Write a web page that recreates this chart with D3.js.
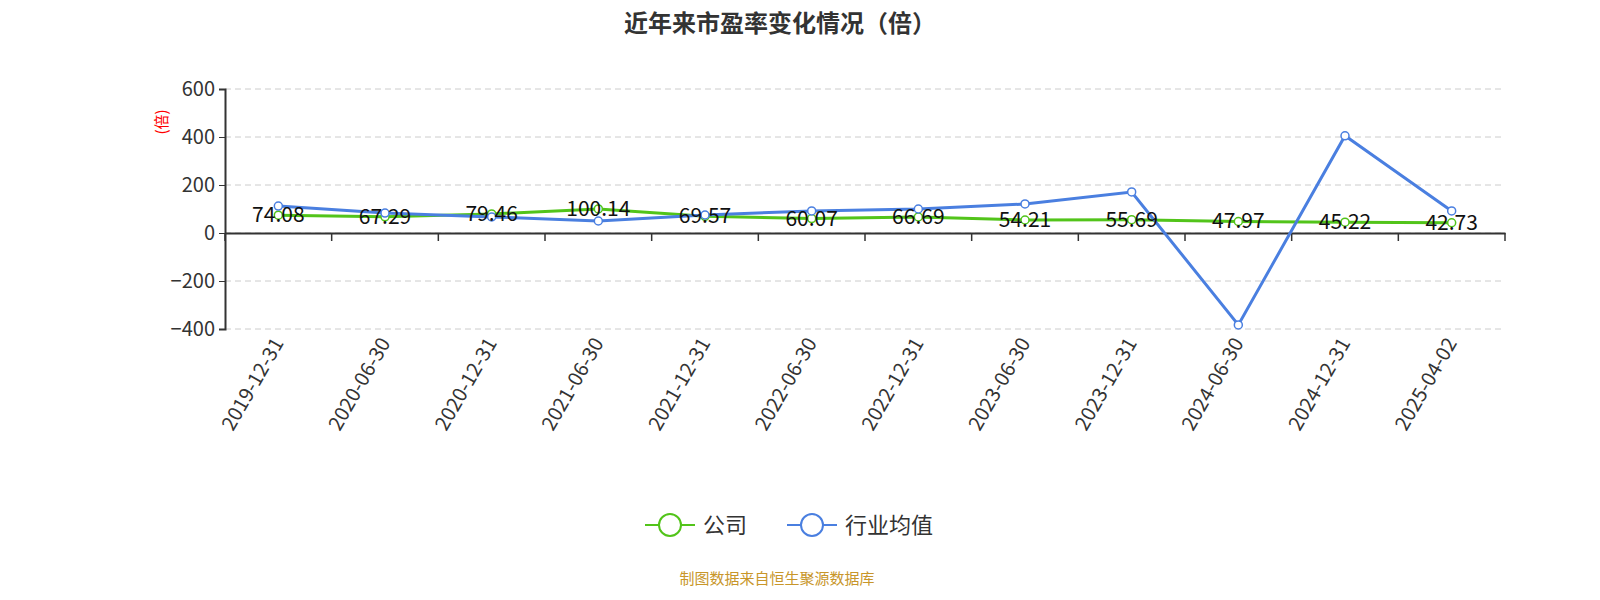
<!DOCTYPE html>
<html><head><meta charset="utf-8">
<script src="https://cdn.jsdelivr.net/npm/d3@7"></script>
<style>body{margin:0;background:#fff;font-family:"Noto Sans CJK SC","Noto Sans",sans-serif;}</style>
</head><body><svg id="chart" width="1600" height="600"></svg>
<script>
// chart data
const dates = ["2019-12-31","2020-06-30","2020-12-31","2021-06-30","2021-12-31","2022-06-30","2022-12-31","2023-06-30","2023-12-31","2024-06-30","2024-12-31","2025-04-02"];
const company = [74.08,67.29,79.46,100.14,69.57,60.07,66.69,54.21,55.69,47.97,45.22,42.73];
const industry = [112,83,67,50,75,92,100,121,171,-383,405,92];
const yTicks = [-400,-200,0,200,400,600];

const svg = d3.select("#chart");
const plotLeft = 225, plotRight = 1505, plotTop = 89, plotBottom = 329;

const x = d3.scaleBand().domain(dates).range([plotLeft, plotRight]);
const y = d3.scaleLinear().domain([-400, 600]).range([plotBottom, plotTop]);
const cx = d => x(d) + x.bandwidth() / 2;

// title
svg.append("text").attr("x", 780).attr("y", 32).attr("text-anchor", "middle")
    .attr("font-size", 24).attr("font-weight", "bold").attr("fill", "#333")
    .text("近年来市盈率变化情况（倍）");

// grid
svg.selectAll(".grid").data(yTicks).join("line")
    .attr("x1", plotLeft).attr("x2", plotRight).attr("y1", d => y(d)).attr("y2", d => y(d))
    .attr("stroke", "#ccc").attr("stroke-dasharray", "6,4");

// y axis
const yAxis = svg.append("g").attr("transform", `translate(${plotLeft},0)`)
    .call(d3.axisLeft(y).tickValues(yTicks).tickSize(6).tickPadding(4));
yAxis.select(".domain").attr("stroke", "#333").attr("stroke-width", 2);
yAxis.selectAll(".tick line").attr("stroke", "#333");
yAxis.selectAll("text").attr("font-size", 20).attr("fill", "#333").attr("font-family", "Noto Sans CJK SC");

svg.append("text").attr("transform", "translate(167,122) rotate(-90)")
    .attr("text-anchor", "middle").attr("font-size", 15).attr("fill", "red").text("(倍)");

// x axis at zero
const xAxis = svg.append("g").attr("transform", `translate(0,${y(0)})`)
    .call(d3.axisBottom(x).tickSize(0).tickFormat(""));
xAxis.select(".domain").attr("stroke", "#333").attr("stroke-width", 2);
const bounds = d3.range(dates.length + 1).map(i => plotLeft + i * x.bandwidth());
svg.selectAll(".xt").data(bounds).join("line")
    .attr("x1", d => d).attr("x2", d => d).attr("y1", y(0)).attr("y2", y(0) + 8)
    .attr("stroke", "#333").attr("stroke-width", 1.5);

svg.selectAll(".xl").data(dates).join("text")
    .attr("transform", d => `translate(${cx(d) + 6},${plotBottom + 14}) rotate(-60)`)
    .attr("text-anchor", "end").attr("font-size", 20).attr("fill", "#333").text(d => d);

// lines
function series(vals, color) {
    const line = d3.line().x((d, i) => cx(dates[i])).y(d => y(d));
    svg.append("path").datum(vals).attr("d", line).attr("fill", "none")
        .attr("stroke", color).attr("stroke-width", 3);
    svg.selectAll(null).data(vals).join("circle")
        .attr("cx", (d, i) => cx(dates[i])).attr("cy", d => y(d)).attr("r", 4)
        .attr("fill", "#fff").attr("stroke", color).attr("stroke-width", 1.5);
}
series(company, "#52c41a");
series(industry, "#4a7fe0");

svg.selectAll(".lab").data(company).join("text")
    .attr("x", (d, i) => cx(dates[i])).attr("y", d => y(d) + 7)
    .attr("text-anchor", "middle").attr("font-size", 21).attr("fill", "#111")
    .text(d => d.toFixed(2));

// legend
const legend = [["公司", "#52c41a", 645], ["行业均值", "#4a7fe0", 787]];
legend.forEach(([name, color, lx]) => {
    const g = svg.append("g").attr("transform", `translate(${lx},525)`);
    g.append("line").attr("x1", 0).attr("x2", 50).attr("stroke", color).attr("stroke-width", 2);
    g.append("circle").attr("cx", 25).attr("r", 11).attr("fill", "#fff").attr("stroke", color).attr("stroke-width", 2);
    g.append("text").attr("x", 58).attr("y", 8).attr("font-size", 22).attr("fill", "#333").text(name);
});

svg.append("text").attr("x", 777).attr("y", 584).attr("text-anchor", "middle")
    .attr("font-size", 15).attr("fill", "#c8962a").text("制图数据来自恒生聚源数据库");
</script></body></html>
